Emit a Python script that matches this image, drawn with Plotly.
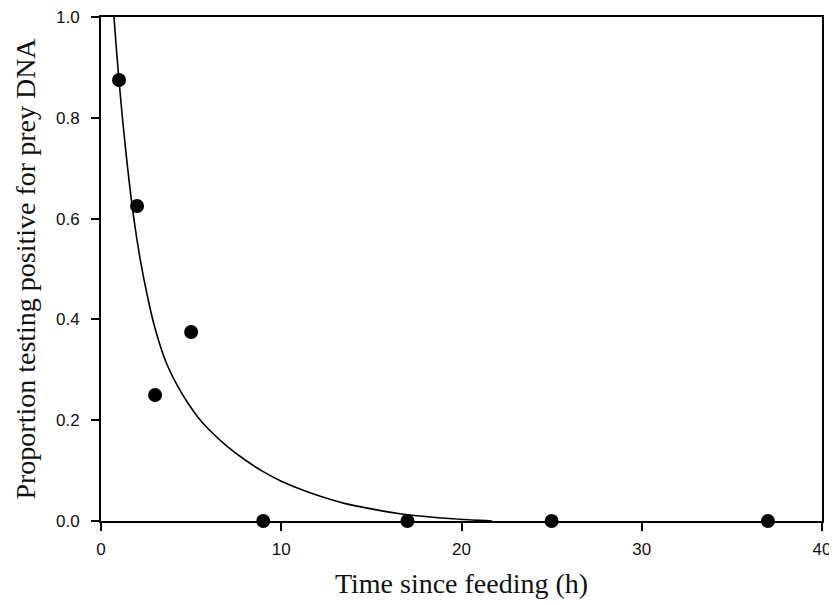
import plotly.graph_objects as go

# Observed data points
time_h = [1, 2, 3, 5, 9, 17, 25, 37]
proportion = [0.875, 0.625, 0.25, 0.375, 0.0, 0.0, 0.0, 0.0]

# Fitted curve
curve_x = [0.72, 1.0, 1.4, 1.8, 2.2, 2.6, 3.0, 3.6, 4.2, 4.8, 5.4, 6.0, 7.0,
           8.0, 9.0, 10.0, 11.0, 12.0, 13.5, 15.0, 16.5, 18.0, 19.5, 21.0, 21.7]
curve_y = [1.0, 0.874, 0.726, 0.606, 0.514, 0.442, 0.382, 0.316, 0.271, 0.235,
           0.205, 0.181, 0.148, 0.121, 0.098, 0.079, 0.064, 0.051, 0.035, 0.024,
           0.015, 0.009, 0.0045, 0.0012, 0.0]

x_ticks = [0, 10, 20, 30, 40]
y_ticks = [0.0, 0.2, 0.4, 0.6, 0.8, 1.0]

fig = go.Figure()
fig.add_trace(go.Scatter(
    x=curve_x, y=curve_y, mode="lines",
    line=dict(color="black", width=1.6, shape="spline", smoothing=1.0),
    cliponaxis=False, showlegend=False, hoverinfo="skip"))
fig.add_trace(go.Scatter(
    x=time_h, y=proportion, mode="markers",
    marker=dict(color="black", size=14, line=dict(width=0)),
    cliponaxis=False, showlegend=False))

tick_font = dict(family="Liberation Sans, Arial, sans-serif", size=17, color="#111")
title_font = dict(family="Liberation Serif, Times New Roman, serif", size=28, color="#111")

# The page body has an 8px default margin, so the figure is sized to fit.
fig.update_layout(
    width=829, height=597,
    margin=dict(l=93, r=15, t=9, b=84),
    paper_bgcolor="white", plot_bgcolor="white",
    xaxis=dict(
        range=[0, 40], tickmode="array", tickvals=x_ticks,
        ticktext=[str(v) for v in x_ticks],
        showgrid=False, zeroline=False, automargin=False,
        showline=True, linecolor="black", linewidth=2, mirror=True,
        ticks="outside", ticklen=8, tickwidth=1.5, tickcolor="black",
        tickfont=tick_font, ticklabelstandoff=4, ticklabeloverflow="allow",
        title=dict(text="Time since feeding (h)", font=title_font, standoff=15),
    ),
    yaxis=dict(
        range=[0, 1.0], tickmode="array", tickvals=y_ticks,
        ticktext=[f"{v:.1f}" for v in y_ticks],
        showgrid=False, zeroline=False, automargin=False,
        showline=True, linecolor="black", linewidth=2, mirror=True,
        ticks="outside", ticklen=8, tickwidth=1.5, tickcolor="black",
        tickfont=tick_font, ticklabelstandoff=8, ticklabeloverflow="allow",
        title=dict(text="Proportion testing positive for prey DNA", font=title_font, standoff=12),
    ),
)

fig.write_html("out.html")
